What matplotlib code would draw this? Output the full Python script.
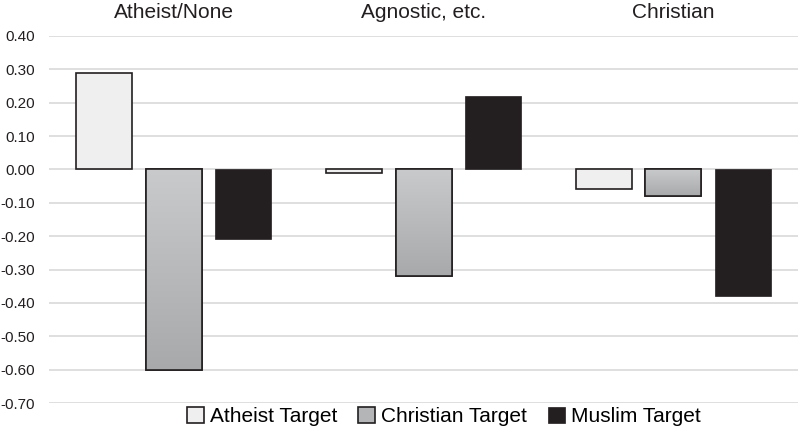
import numpy as np
import matplotlib
matplotlib.use("Agg")
import matplotlib.pyplot as plt

plt.rcParams['font.family'] = ['Liberation Sans', 'DejaVu Sans']

# Data
groups = ['Atheist/None', 'Agnostic, etc.', 'Christian']
series = ['Atheist Target', 'Christian Target', 'Muslim Target']
atheist_target = [0.29, -0.01, -0.06]
christian_target = [-0.60, -0.32, -0.08]
muslim_target = [-0.21, 0.22, -0.38]
yticks = [0.40, 0.30, 0.20, 0.10, 0.00, -0.10, -0.20, -0.30, -0.40, -0.50, -0.60, -0.70]

fig = plt.figure(figsize=(8, 4.32), dpi=100)
ax = fig.add_axes([0.061, 0.067, 0.937, 0.85])

x = np.arange(len(groups))
width = 0.224
step = 0.278

b1 = ax.bar(x - step, atheist_target, width, color='#efefef', edgecolor='#231f20', linewidth=1.2,
            label=series[0], zorder=3)
b2 = ax.bar(x, christian_target, width, color='#b4b5b7', edgecolor='#231f20', linewidth=1.2,
            label=series[1], zorder=3)
b3 = ax.bar(x + step, muslim_target, width, color='#231f20', edgecolor='#231f20', linewidth=0.5,
            label=series[2], zorder=3)

# gradient fill for the Christian Target bars
grad = np.linspace(0, 1, 256).reshape(-1, 1)
cmap = matplotlib.colors.LinearSegmentedColormap.from_list('g', ['#c9cacc', '#a8a9ab'])
for bar in b2:
    x0, y0 = bar.get_x(), bar.get_y()
    w, h = bar.get_width(), bar.get_height()
    top, bottom = max(y0, y0 + h), min(y0, y0 + h)
    im = ax.imshow(grad, cmap=cmap, aspect='auto', extent=[x0, x0 + w, bottom, top],
                   origin='upper', zorder=3.1)
    im.set_clip_path(bar)
    ax.add_patch(plt.Rectangle((x0, y0), w, h, fill=False, edgecolor='#231f20',
                               linewidth=1.2, zorder=3.2))

ax.set_xlim(-0.5, len(groups) - 0.5)
ax.set_ylim(-0.70, 0.40)
ax.set_yticks(yticks)
ax.set_yticklabels(['%.2f' % v for v in yticks], fontsize=11, color='#231f20')
ax.set_xticks([])
ax.tick_params(axis='y', length=0, pad=10)
ax.grid(axis='y', color='#d9d9d9', linewidth=1.2, zorder=0)
for s in ax.spines.values():
    s.set_visible(False)

for i, g in enumerate(groups):
    ax.text(x[i], 0.469, g, ha='center', va='center', fontsize=15, color='#231f20')

fig.legend(loc='center', bbox_to_anchor=(0.555, 0.035), ncol=3, frameon=False,
           fontsize=15, handlelength=0.8, handleheight=0.8, handletextpad=0.3, columnspacing=1.0)

fig.savefig('out.png', dpi=100)
